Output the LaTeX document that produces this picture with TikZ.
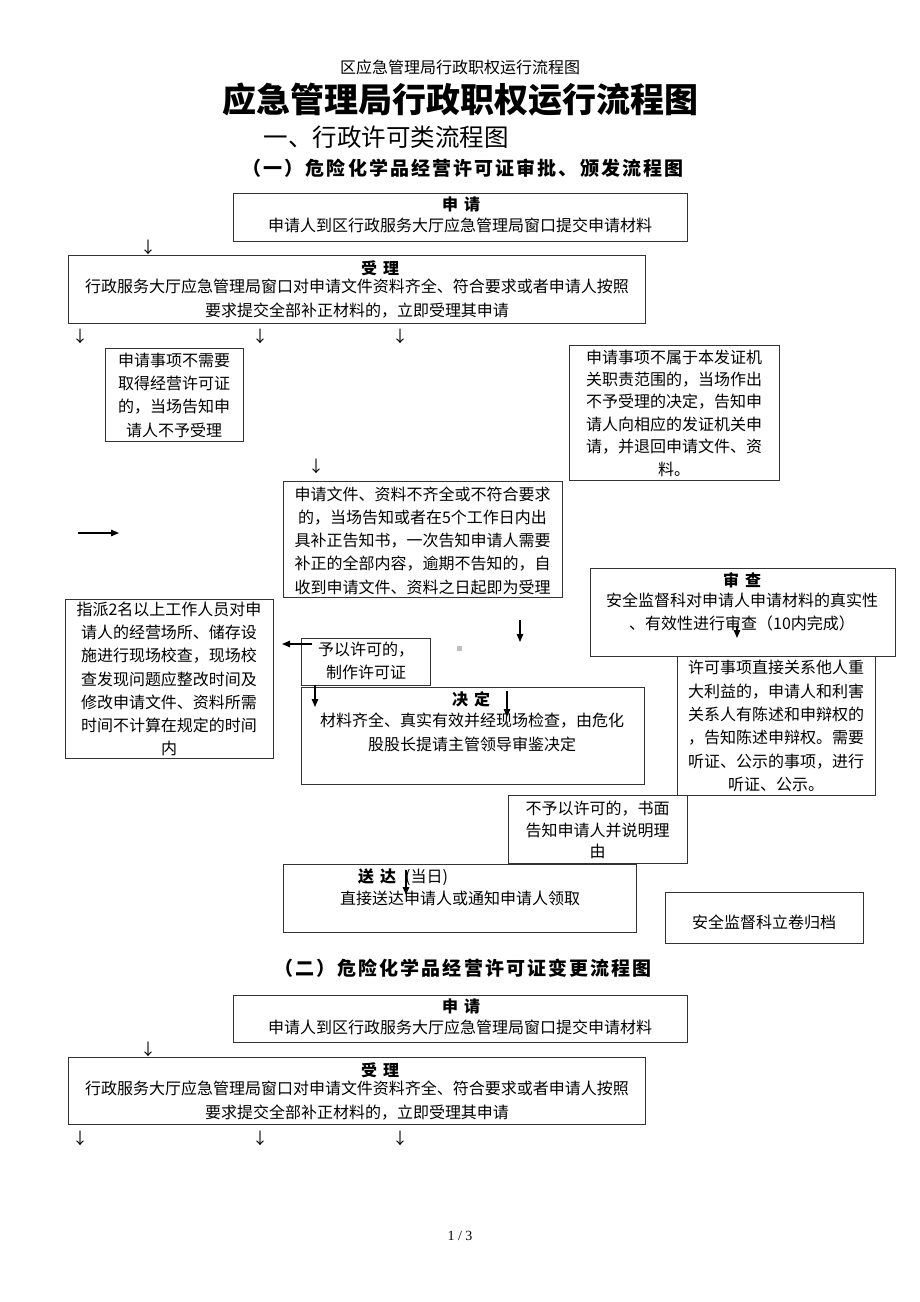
\documentclass[tikz,border=0pt]{standalone}
\usepackage{fontspec}
\setmainfont{Noto Sans CJK SC}
\newfontfamily\hdfont[LetterSpace=11]{Noto Sans CJK SC}
\newfontfamily\pgnfont{Liberation Serif}
\usetikzlibrary{arrows.meta,fit}
\begin{document}
\begin{tikzpicture}[x=1pt,y=-1pt,
  frame/.style={draw=black!80,line width=0.9pt,inner sep=0pt},
  txt/.style={font=\fontsize{16}{23.3}\selectfont,align=center,inner sep=0pt},
  tight/.style={font=\fontsize{16}{22.4}\selectfont,align=center,inner sep=0pt},
  ttl/.style={font=\fontsize{16}{20}\selectfont\bfseries,inner sep=0pt},
  arr/.style={-{Triangle[length=8pt,width=6.5pt]},line width=1.1pt},
  darr/.style={font=\fontsize{16}{16}\selectfont,inner sep=0pt},
  sect/.style={font=\fontsize{19}{22}\selectfont\hdfont\bfseries,inner sep=0pt}]
\fill[white] (0,0) rectangle (920,1302);
\useasboundingbox (0,0) rectangle (920,1302);

% headings
\node[inner sep=0pt,font=\fontsize{16}{18}\selectfont] (hdr) at (460,67) {区应急管理局行政职权运行流程图};
\node[inner sep=0pt,font=\fontsize{34}{38}\selectfont\bfseries] (title) at (460,100) {应急管理局行政职权运行流程图};
\node[inner sep=0pt,font=\fontsize{24.5}{28}\selectfont] (sub) at (386,137) {一、行政许可类流程图};
\node[sect] (s1) at (463,168) {（一）危险化学品经营许可证审批、颁发流程图};

% ---- section 1 boxes
\node[frame,fit={(233,193) (687,241)}] (sq) {};
\node[ttl] (sqT) at (461,204) {申\hspace{6pt}请};
\node[txt] (sqX) at (460,225) {申请人到区行政服务大厅应急管理局窗口提交申请材料};

\node[frame,fit={(68,255) (645,323)}] (sl) {};
\node[ttl] (slT) at (380,268) {受\hspace{6pt}理};
\node[txt] (slX) at (357,298.5) {行政服务大厅应急管理局窗口对申请文件资料齐全、符合要求或者申请人按照\\要求提交全部补正材料的，立即受理其申请};

\node[frame,fit={(105,348) (243,441)}] (nx) {};
\node[txt] (nxX) at (174,395) {申请事项不需要\\取得经营许可证\\的，当场告知申\\请人不予受理};

\node[frame,fit={(569,345) (779,480)}] (bs) {};
\node[tight] (bsX) at (674,413) {申请事项不属于本发证机\\关职责范围的，当场作出\\不予受理的决定，告知申\\请人向相应的发证机关申\\请，并退回申请文件、资\\料。};

\node[frame,fit={(283,481) (562,597)}] (bq) {};
\node[txt] (bqX) at (422.5,540.5) {申请文件、资料不齐全或不符合要求\\的，当场告知或者在5个工作日内出\\具补正告知书，一次告知申请人需要\\补正的全部内容，逾期不告知的，自\\收到申请文件、资料之日起即为受理};

\node[frame,fit={(590,568) (895,656)}] (sc) {};
\node[ttl] (scT) at (742,580) {审\hspace{6pt}查};
\node[txt] (scX) at (742,612) {安全监督科对申请人申请材料的真实性\\、有效性进行审查（10内完成）};

\node[frame,fit={(65,599) (273,758)}] (zp) {};
\node[txt] (zpX) at (169,679) {指派2名以上工作人员对申\\请人的经营场所、储存设\\施进行现场校查，现场校\\查发现问题应整改时间及\\修改申请文件、资料所需\\时间不计算在规定的时间\\内};

\node[frame,fit={(301,638) (430,685)}] (yx) {};
\node[txt] (yxX) at (366,661) {予以许可的，\\制作许可证};

\node[frame,fit={(301,687) (644,784)}] (jd) {};
\node[ttl] (jdT) at (471,699) {决\hspace{6pt}定};
\node[txt] (jdX) at (472,732.5) {材料齐全、真实有效并经现场检查，由危化\\股股长提请主管领导审鉴决定};

\node[frame,fit={(677,656) (875,795)}] (xk) {};
\node[txt] (xkX) at (776,726) {许可事项直接关系他人重\\大利益的，申请人和利害\\关系人有陈述和申辩权的\\，告知陈述申辩权。需要\\听证、公示的事项，进行\\听证、公示。};

\node[frame,fit={(508,795) (687,863)}] (by) {};
\node[font=\fontsize{16}{21.5}\selectfont,align=center,inner sep=0pt] (byX) at (597.5,830) {不予以许可的，书面\\告知申请人并说明理\\由};

\node[frame,fit={(283,864) (636,932)}] (sd) {};
\node[anchor=west,inner sep=0pt,font=\fontsize{16}{20}\selectfont] (sdT) at (358,877) {\bfseries 送\hspace{6pt}达\hspace{9pt}\mdseries(当日)};
\node[txt] (sdX) at (460,898) {直接送达申请人或通知申请人领取};

\node[frame,fit={(665,892) (863,943)}] (lj) {};
\node[txt] (ljX) at (764,922) {安全监督科立卷归档};

% grey dot
\node[fill=black!25,inner sep=0pt,minimum size=5pt] (dot) at (459.5,648.5) {};

% thin text arrows
\node[darr] (d1) at (148,247) {↓};
\node[darr] (d2) at (80,336) {↓};
\node[darr] (d3) at (260,336) {↓};
\node[darr] (d4) at (400,336) {↓};
\node[darr] (d5) at (316,466) {↓};

% filled arrows
\coordinate (a1s) at (78,533);  \coordinate (a1e) at (119,533);
\coordinate (a2s) at (312,644); \coordinate (a2e) at (282,644);
\coordinate (a3s) at (315,685); \coordinate (a3e) at (315,707);
\coordinate (a4s) at (520,620); \coordinate (a4e) at (520,642);
\coordinate (a5s) at (507,691); \coordinate (a5e) at (507,717);
\coordinate (a6s) at (737,626); \coordinate (a6e) at (737,638);
\coordinate (a7s) at (406,870); \coordinate (a7e) at (406,895);
\draw[arr] (a1s) -- (a1e);
\draw[arr] (a2s) -- (a2e);
\draw[arr] (a3s) -- (a3e);
\draw[arr] (a4s) -- (a4e);
\draw[arr] (a5s) -- (a5e);
\draw[arr] (a6s) -- (a6e);
\draw[arr] (a7s) -- (a7e);

% ---- section 2
\node[sect] (s2) at (463,968) {（二）危险化学品经营许可证变更流程图};
\node[frame,fit={(233,995) (687,1042)}] (sq2) {};
\node[ttl] (sq2T) at (461,1006) {申\hspace{6pt}请};
\node[txt] (sq2X) at (460,1027) {申请人到区行政服务大厅应急管理局窗口提交申请材料};
\node[frame,fit={(68,1057) (645,1124)}] (sl2) {};
\node[ttl] (sl2T) at (380,1070) {受\hspace{6pt}理};
\node[txt] (sl2X) at (357,1100.5) {行政服务大厅应急管理局窗口对申请文件资料齐全、符合要求或者申请人按照\\要求提交全部补正材料的，立即受理其申请};
\node[darr] (e1) at (148,1049) {↓};
\node[darr] (e2) at (80,1138) {↓};
\node[darr] (e3) at (260,1138) {↓};
\node[darr] (e4) at (400,1138) {↓};

% footer
\node[inner sep=0pt,font=\pgnfont\fontsize{14}{16}\selectfont] (pg) at (460,1236) {1 / 3};
\end{tikzpicture}
\end{document}
